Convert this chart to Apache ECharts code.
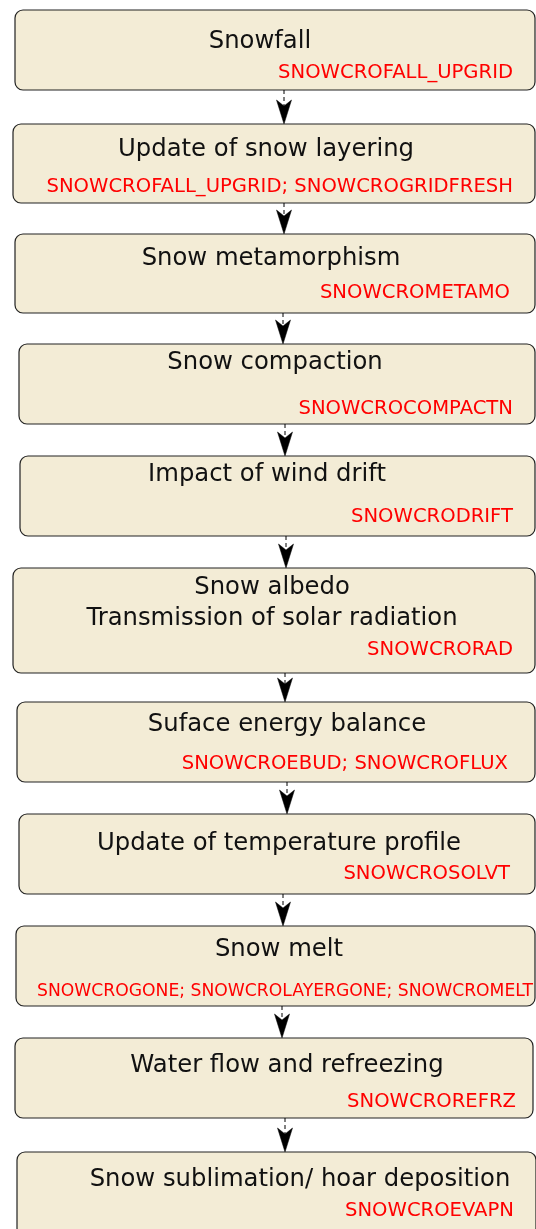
<!DOCTYPE html>
<html>
<head>
<meta charset="utf-8">
<script src="https://cdn.jsdelivr.net/npm/echarts@6/dist/echarts.min.js"></script>
<style>
  html, body { margin: 0; padding: 0; background: #fff; }
  #chart { width: 536px; height: 1229px; }
</style>
</head>
<body>
<div id="chart"></div>
<script>
// steps of the snow scheme, top to bottom
const steps = [
  'Snowfall',
  'Update of snow layering',
  'Snow metamorphism',
  'Snow compaction',
  'Impact of wind drift',
  'Snow albedo\nTransmission of solar radiation',
  'Suface energy balance',
  'Update of temperature profile',
  'Snow melt',
  'Water flow and refreezing',
  'Snow sublimation/ hoar deposition'
]
// routines called for each step
const routines = [
  'SNOWCROFALL_UPGRID',
  'SNOWCROFALL_UPGRID; SNOWCROGRIDFRESH',
  'SNOWCROMETAMO',
  'SNOWCROCOMPACTN',
  'SNOWCRODRIFT',
  'SNOWCRORAD',
  'SNOWCROEBUD; SNOWCROFLUX',
  'SNOWCROSOLVT',
  'SNOWCROGONE; SNOWCROLAYERGONE; SNOWCROMELT',
  'SNOWCROREFRZ',
  'SNOWCROEVAPN'
]

// layout of the boxes (in page units, y downwards)
const boxLeft = [15, 13, 15, 19, 20, 13, 17, 19, 16, 15, 17]
const boxRight = [535, 535, 535, 535, 535, 535, 535, 535, 535, 533, 536]
const boxTop = [10, 124, 234, 344, 456, 568, 702, 814, 926, 1038, 1152]
const boxBottom = [90, 203, 313, 424, 536, 673, 782, 894, 1006, 1118, 1236]
const titleX = [260, 266, 271, 275, 267, 272, 287, 279, 279, 287, 300]
const titleY = [42, 150, 259, 363, 475, 603, 725, 844, 950, 1066, 1180]
const routineRight = [513, 513, 510, 513, 513, 513, 508, 510, 533, 516, 514]
const routineY = [73, 187, 293, 409, 517, 650, 764, 874, 992, 1102, 1211]
const routineSize = [19.6, 19.6, 19.6, 19.6, 19.6, 19.6, 19.6, 19.6, 17.2, 19.6, 19.6]
const arrowX = [284, 284, 283, 285, 286, 285, 287, 283, 282, 285]

const W = 536
const H = 1229
const FONT = 'DejaVu Sans'

let chart = echarts.init(document.getElementById('chart'))

function renderStep(params, api) {
  let i = params.dataIndex
  let p0 = api.coord([boxLeft[i], boxTop[i]])
  let p1 = api.coord([boxRight[i], boxBottom[i]])
  let children = []

  //box
  children.push({
    type: 'rect',
    shape: { x: p0[0], y: p0[1], width: p1[0] - p0[0], height: p1[1] - p0[1], r: 8 },
    style: { fill: '#f3ecd6', stroke: '#222', lineWidth: 1.2 }
  })

  //title
  let t = api.coord([titleX[i], titleY[i]])
  children.push({
    type: 'text',
    style: {
      text: steps[i], x: t[0], y: t[1],
      align: 'center', verticalAlign: 'middle',
      fontSize: 24.3, fontFamily: FONT, fill: '#111', lineHeight: 31
    }
  })

  //routine names
  let r = api.coord([routineRight[i], routineY[i]])
  children.push({
    type: 'text',
    style: {
      text: routines[i], x: r[0], y: r[1],
      align: 'right', verticalAlign: 'middle',
      fontSize: routineSize[i], fontFamily: FONT, fill: '#ff0000'
    }
  })

  //arrow to the next step
  if (i < steps.length - 1) {
    let a0 = api.coord([arrowX[i], boxBottom[i]])
    let tip = api.coord([arrowX[i], boxTop[i + 1]])
    children.push({
      type: 'line',
      shape: { x1: a0[0], y1: a0[1], x2: tip[0], y2: tip[1] - 16 },
      style: { stroke: '#000', lineWidth: 1, lineDash: [4, 3] }
    })
    children.push({
      type: 'polygon',
      shape: {
        points: [
          [tip[0], tip[1]],
          [tip[0] - 7.5, tip[1] - 24],
          [tip[0], tip[1] - 18],
          [tip[0] + 7.5, tip[1] - 24]
        ]
      },
      style: { fill: '#000', stroke: '#000', lineWidth: 0.5 }
    })
  }

  return { type: 'group', children: children }
}

chart.setOption({
  backgroundColor: '#fff',
  animation: false,
  grid: { left: 0, right: 0, top: 0, bottom: 0 },
  xAxis: { type: 'value', min: 0, max: W, show: false },
  yAxis: { type: 'value', min: 0, max: H, inverse: true, show: false },
  series: [{
    type: 'custom',
    renderItem: renderStep,
    clip: false,
    data: steps.map((s, i) => [i])
  }]
})
</script>
</body>
</html>
